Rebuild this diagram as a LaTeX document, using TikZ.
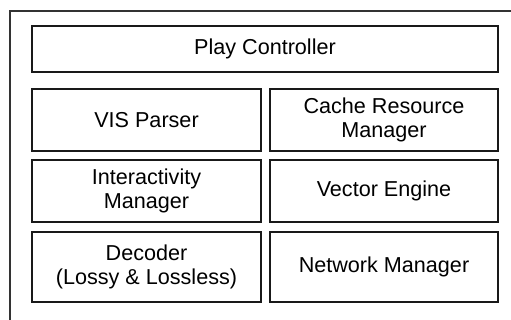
\documentclass[tikz,border=0pt]{standalone}
\usepackage{fontspec}
\setmainfont{Liberation Sans}
\begin{document}
\begin{tikzpicture}[x=1pt,y=-1pt,
  module/.style={draw=black!90,line width=1.2pt,rectangle,inner sep=0pt,
    align=center,font=\fontsize{21.6}{24.5}\selectfont,text=black},
  frameline/.style={draw=black!80,line width=1.1pt}]
\useasboundingbox (0,0) rectangle (511,320);
\fill[white] (0,0) rectangle (511,320);
% open outer frame (left and top edges)
\draw[frameline] (10,320) -- (10,11) -- (511,11);
% module boxes
\node[module,minimum width=466pt,minimum height=46pt] (play) at (265,49) {Play Controller};
\node[module,minimum width=229pt,minimum height=62pt] (vis) at (146.5,120) {VIS Parser};
\node[module,minimum width=228pt,minimum height=62pt] (cache) at (384,120) {Cache Resource\\Manager};
\node[module,minimum width=229pt,minimum height=62pt] (inter) at (146.5,191) {Interactivity\\Manager};
\node[module,minimum width=228pt,minimum height=62pt] (vector) at (384,191) {Vector Engine};
\node[module,minimum width=229pt,minimum height=70pt] (dec) at (146.5,267) {Decoder\\(Lossy \& Lossless)};
\node[module,minimum width=228pt,minimum height=70pt] (net) at (384,267) {Network Manager};
\end{tikzpicture}
\end{document}
